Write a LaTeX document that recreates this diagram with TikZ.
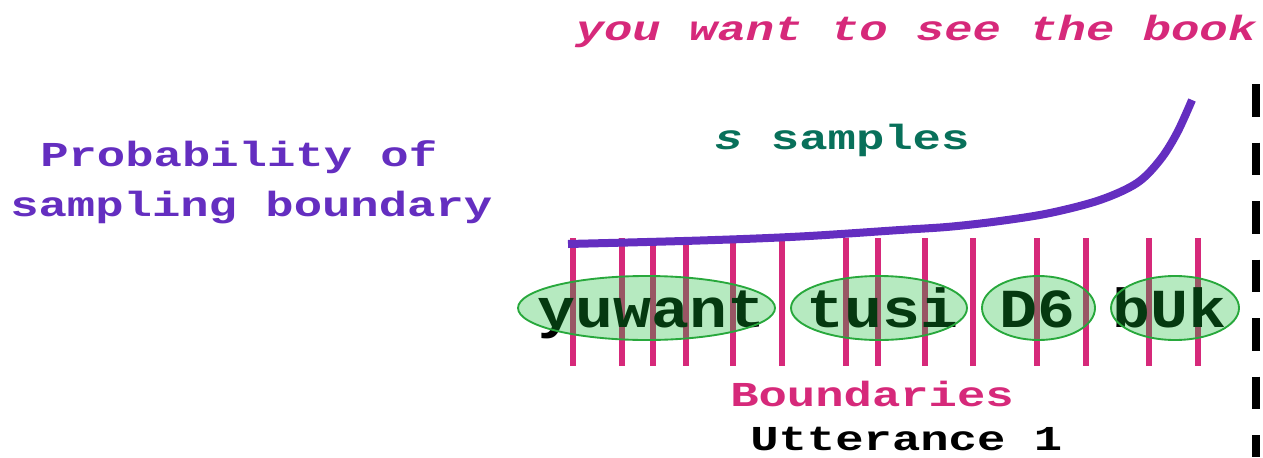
\documentclass[tikz,border=0pt]{standalone}
\usepackage{fontspec}
\newfontfamily\courl[FakeStretch=1.35]{Liberation Mono}
\newfontfamily\courw[FakeStretch=1.15]{Liberation Mono}
\definecolor{bpink}{RGB}{214,41,122}
\definecolor{bpurple}{RGB}{100,46,192}
\definecolor{bteal}{RGB}{8,112,90}
\definecolor{efill}{RGB}{19,187,52}
\definecolor{eedge}{RGB}{40,168,60}
\tikzset{
  lbl/.style={font=\courl\bfseries\fontsize{26.25}{30}\selectfont, inner sep=0pt, anchor=base west},
  wrd/.style={font=\courw\bfseries\fontsize{41.25}{46}\selectfont, inner sep=0pt, anchor=base west, text=black},
  bline/.style={draw=bpink, line width=3.8pt},
  seg/.style={draw=eedge, line width=1.4pt, fill=efill, fill opacity=0.31, draw opacity=1},
}
\begin{document}
\begin{tikzpicture}[x=0.75pt,y=-0.75pt]
\useasboundingbox (0,0) rectangle (1263,457);
% boundaries
\foreach \bx in {573,622,653,686,733,782,846,878,925,973,1037,1086,1149,1198}
  \draw[bline] (\bx,238) -- (\bx,366);
% words
\node[wrd] (w1) at (537,327) {yuwant};
\node[wrd] (w2) at (806,327) {tusi};
\node[wrd] (w3) at (999,327) {D6};
\node[wrd] (w4) at (1112,327) {bUk};
% ellipses
\path[seg] (646.5,308) ellipse [x radius=128.5, y radius=32];
\path[seg] (879,308) ellipse [x radius=88, y radius=32];
\path[seg] (1038.5,308) ellipse [x radius=56.5, y radius=32];
\path[seg] (1175,308) ellipse [x radius=64, y radius=32];
% probability curve
\draw[bpurple, line width=6pt] plot[smooth, tension=0.55] coordinates
  {(568,244) (700,240.5) (800,236.5) (900,230) (950,226.7) (1000,221) (1050,213) (1100,200) (1137,183) (1160,160) (1177,133) (1192,100)};
% dashed utterance end
\coordinate (dtop) at (1256,84);
\coordinate (dbot) at (1256,457);
\draw[black, line width=6pt, dash pattern=on 24.5pt off 19.4pt] (dtop) -- (dbot);
% labels
\node[lbl, text=bpink, anchor=base] (title) at (916,40) {\itshape you want to see the book};
\node[lbl, text=bpurple] (prob1) at (40,166) {Probability of};
\node[lbl, text=bpurple] (prob2) at (10,216) {sampling boundary};
\node[lbl, text=bteal] (samp) at (714,149) {{\itshape s} samples};
\node[lbl, text=bpink] (bnd) at (730,406) {Boundaries};
\node[lbl, text=black] (utt) at (750,450) {Utterance 1};
\end{tikzpicture}
\end{document}
